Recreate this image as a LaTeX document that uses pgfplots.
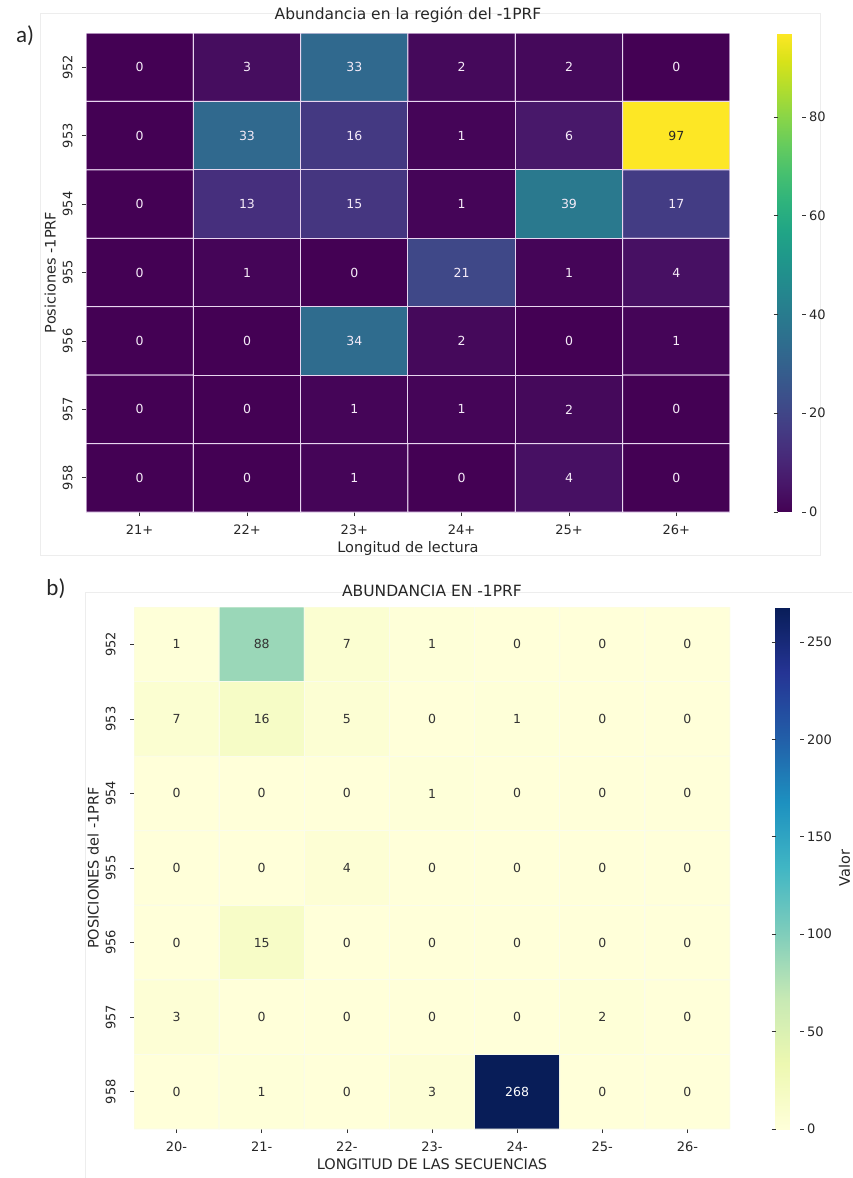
\documentclass[border=0pt]{standalone}
\usepackage{fontspec}
\setmainfont{DejaVu Sans}
\newfontfamily\carl{Carlito}
\usepackage{pgfplots}
\pgfplotsset{compat=1.18}
\usepackage{pgfplotstable}

% Panel a: rows 952..958 (y=0..6), columns 21+..26+ (x=0..5)
\pgfplotstableread{
x y z
0 0 0
1 0 3
2 0 33
3 0 2
4 0 2
5 0 0
0 1 0
1 1 33
2 1 16
3 1 1
4 1 6
5 1 97
0 2 0
1 2 13
2 2 15
3 2 1
4 2 39
5 2 17
0 3 0
1 3 1
2 3 0
3 3 21
4 3 1
5 3 4
0 4 0
1 4 0
2 4 34
3 4 2
4 4 0
5 4 1
0 5 0
1 5 0
2 5 1
3 5 1
4 5 2
5 5 0
0 6 0
1 6 0
2 6 1
3 6 0
4 6 4
5 6 0
}\dataA

% Panel b: rows 952..958 (y=0..6), columns 20-..26- (x=0..6)
\pgfplotstableread{
x y z
0 0 1
1 0 88
2 0 7
3 0 1
4 0 0
5 0 0
6 0 0
0 1 7
1 1 16
2 1 5
3 1 0
4 1 1
5 1 0
6 1 0
0 2 0
1 2 0
2 2 0
3 2 1
4 2 0
5 2 0
6 2 0
0 3 0
1 3 0
2 3 4
3 3 0
4 3 0
5 3 0
6 3 0
0 4 0
1 4 15
2 4 0
3 4 0
4 4 0
5 4 0
6 4 0
0 5 3
1 5 0
2 5 0
3 5 0
4 5 0
5 5 2
6 5 0
0 6 0
1 6 1
2 6 0
3 6 3
4 6 268
5 6 0
6 6 0
}\dataB

\definecolor{gridA}{RGB}{232,214,240}
\definecolor{gridB}{RGB}{250,252,235}
\definecolor{txtA}{RGB}{245,235,248}

\pgfplotsset{
  colormap={ylgnbu}{rgb255(0)=(255,255,217) rgb255(1)=(237,248,177) rgb255(2)=(199,233,180) rgb255(3)=(127,205,187) rgb255(4)=(65,182,196) rgb255(5)=(29,145,192) rgb255(6)=(34,94,168) rgb255(7)=(37,52,148) rgb255(8)=(8,29,88)},
  hm/.style={
    scale only axis,
    y dir=reverse,
    axis line style={draw=none},
    tick align=outside,
    xtick pos=bottom, ytick pos=left,
    major tick length=4pt,
    tick style={black!80, line width=0.7pt},
    tick label style={font=\fontsize{13}{15}\selectfont, text=black!85},
    label style={font=\fontsize{14.5}{17}\selectfont, text=black!85},
    title style={font=\fontsize{15.5}{18}\selectfont, text=black!85, at={(0.5,1)}, anchor=south, yshift=1pt},
    yticklabel style={rotate=90, anchor=south},
    xticklabel shift=5pt,
    yticklabel shift=6pt,
    /pgf/number format/assume math mode=true,
    ytick={0,...,6},
    yticklabels={952,953,954,955,956,957,958},
    ymin=-0.5, ymax=6.5,
  },
  cb/.style={
    at={(parent axis.north east)}, anchor=north west,
    width=24pt,
    axis line style={draw=none},
    tick align=outside,
    major tick length=4pt,
    tick style={black!80, line width=0.7pt},
    tick label style={font=\fontsize{13}{15}\selectfont, text=black!85},
    /pgf/number format/assume math mode=true,
  },
  ann/.style={only marks, mark=none, point meta=explicit,
    nodes near coords,
    every node near coord/.append style={anchor=center, font=\fontsize{12.5}{14}\selectfont, text=#1}},
}

\begin{document}
\begin{tikzpicture}
\useasboundingbox (0,0) rectangle (852pt,-1178pt);
\draw[black!7, line width=0.8pt] (40pt,-13pt) rectangle (820pt,-555pt);
\draw[black!7, line width=0.8pt] (85pt,-1178pt) -- (85pt,-592pt) -- (852pt,-592pt);
\node[font=\carl\fontsize{23}{26}\selectfont, text=black!85] at (25pt,-36pt) {a)};
\node[font=\carl\fontsize{23}{26}\selectfont, text=black!85] at (56pt,-589pt) {b)};

% ---------- Panel a ----------
\begin{axis}[hm,
  at={(86pt,-33pt)}, anchor=north west,
  width=644pt, height=479pt,
  xmin=-0.5, xmax=5.5,
  xtick={0,...,5},
  xticklabels={21+,22+,23+,24+,25+,26+},
  title={Abundancia en la región del -1PRF},
  xlabel={Longitud de lectura},
  ylabel={Posiciones -1PRF},
  colormap/viridis,
  point meta min=0, point meta max=97,
  colorbar,
  colorbar style={cb, xshift=39pt, ytick={0,20,40,60,80}},
]
\addplot[matrix plot*, shader=faceted, mesh/cols=6, point meta=explicit,
  faceted color=gridA, line width=1pt]
  table[x=x, y=y, meta=z] {\dataA};
\addplot[ann=txtA, restrict expr to domain={\thisrow{z}}{-1:80}]
  table[x=x, y=y, meta=z] {\dataA};
\addplot[ann=black!85, restrict expr to domain={\thisrow{z}}{81:1000}]
  table[x=x, y=y, meta=z] {\dataA};
\end{axis}

% ---------- Panel b ----------
\begin{axis}[hm,
  at={(134pt,-607pt)}, anchor=north west,
  width=596pt, height=522pt,
  xmin=-0.5, xmax=6.5,
  xtick={0,...,6},
  xticklabels={20-,21-,22-,23-,24-,25-,26-},
  yticklabel shift=11pt,
  title={ABUNDANCIA EN -1PRF},
  xlabel={LONGITUD DE LAS SECUENCIAS},
  ylabel={POSICIONES del -1PRF},
  colormap name=ylgnbu,
  point meta min=0, point meta max=268,
  colorbar,
  colorbar style={cb, xshift=37pt, ytick={0,50,100,150,200,250},
    ylabel={Valor}, ylabel style={font=\fontsize{14.5}{17}\selectfont, text=black!85}},
]
\addplot[matrix plot*, shader=faceted, mesh/cols=7, point meta=explicit,
  faceted color=gridB, line width=0.8pt]
  table[x=x, y=y, meta=z] {\dataB};
\addplot[ann=black!80, restrict expr to domain={\thisrow{z}}{-1:200}]
  table[x=x, y=y, meta=z] {\dataB};
\addplot[ann=white, restrict expr to domain={\thisrow{z}}{201:1000}]
  table[x=x, y=y, meta=z] {\dataB};
\end{axis}
\end{tikzpicture}
\end{document}
